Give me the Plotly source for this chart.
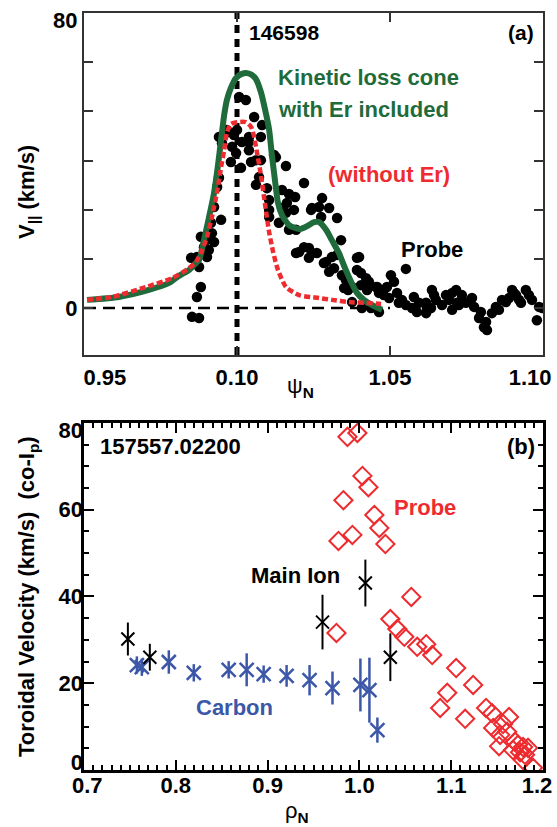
import plotly.graph_objects as go

# ---------------- Panel (a) data ----------------
psi_probe = [1.0007, 1.0029, 1.0056, 1.0082, 0.9967, 1.0000, 0.9964, 0.9951, 0.9990, 1.0039,
             1.0078, 0.9941, 1.0016, 1.0039, 0.9951, 0.9984, 0.9997, 1.0039, 1.0062, 1.0121,
             0.9980, 1.0013, 1.0046, 1.0078, 1.0127, 1.0160, 1.0072, 0.9941, 1.0062, 1.0098,
             0.9935, 1.0147, 1.0219, 1.0170, 1.0190, 1.0105, 1.0163, 1.0186, 1.0147, 1.0160,
             1.0242, 1.0268, 1.0278, 1.0245, 1.0301, 1.0275, 1.0327, 0.9925, 0.9948, 0.9915,
             0.9918, 1.0105, 1.0105, 1.0137, 1.0170, 1.0193, 0.9882, 0.9899, 0.9925, 0.9908,
             0.9892, 1.0193, 1.0219, 1.0235, 1.0245, 1.0235, 1.0203, 0.9850, 0.9869, 0.9902,
             0.9876, 0.9882, 0.9869, 0.9853, 0.9876,
             1.0261, 1.0291, 1.0310, 1.0327, 1.0340, 1.0392, 1.0343, 1.0392, 1.0405, 1.0356,
             1.0350, 1.0422, 1.0431, 1.0503, 1.0552, 1.0376, 1.0405, 1.0425, 1.0458, 1.0471,
             1.0490, 1.0480, 1.0497, 1.0376, 1.0438, 1.0523, 1.0529, 1.0552, 1.0578, 1.0572,
             1.0588, 1.0618, 1.0621, 1.0637, 1.0650, 1.0670, 1.0683, 1.0703, 1.0716, 1.0735,
             1.0719, 1.0748, 1.0768, 1.0775, 1.0797, 1.0791, 1.0807, 1.0814, 1.0833, 1.0856,
             1.0866, 1.0889, 1.0899, 1.0912, 1.0944, 1.0954, 1.0928, 1.0964, 1.0987, 1.0998,
             1.0980, 1.0284, 1.0317, 1.0399, 1.0301, 1.0454, 1.0363, 1.0513, 1.0464, 1.0408,
             1.0464, 1.0539, 1.0634, 1.0618, 1.0644, 1.0693, 1.0735, 1.0725, 1.0703, 1.0817,
             1.0846, 1.0879, 1.0905, 1.0922, 1.0595]
v_probe = [57.2, 56.4, 51.8, 49.6, 48.3, 48.3, 47.5, 46.4, 46.9, 46.4,
           46.4, 46.4, 45.0, 45.0, 44.7, 43.7, 42.0, 42.8, 40.1, 41.5,
           39.6, 38.0, 39.6, 40.1, 40.9, 38.5, 35.5, 35.3, 33.4, 32.5,
           32.8, 32.0, 33.9, 30.9, 30.1, 29.3, 28.5, 26.6, 27.1, 25.8,
           26.6, 27.4, 29.8, 27.1, 27.1, 24.7, 24.4, 27.4, 23.9, 23.1,
           20.3, 26.6, 24.7, 23.1, 21.2, 21.2, 19.3, 18.4, 17.9, 15.7,
           16.5, 14.9, 16.5, 16.3, 14.9, 13.6, 15.2, 13.6, 13.8, 13.8,
           11.1, 5.7, 3.0, -2.4, -2.7,
           14.9, 12.5, 13.8, 14.4, 18.4, 13.6, 8.9, 10.3, 9.5, 7.6,
           5.4, 8.1, 7.1, 8.9, 10.6, 5.7, 6.2, 4.9, 5.7, 4.9,
           5.7, 3.5, 2.7, 1.6, 0.0, 4.1, 1.4, 0.8, 3.0, 0.0,
           -1.1, 1.4, 0.0, 4.9, 2.2, 0.8, 3.5, 4.1, 4.9, 3.5,
           1.4, 1.4, 2.7, 0.3, -1.1, -2.7, -5.2, -3.8, -1.4, -0.5,
           2.2, 2.7, 4.9, 3.5, 4.9, 3.5, 1.4, 2.2, 0.3, 0.0,
           -3.3, 12.2, 10.8, 13.8, 9.8, 5.7, 4.9, 7.1, 4.1, 0.0,
           -1.1, 2.2, 0.0, -1.4, 3.5, 2.2, 2.2, 0.8, -0.5, -6.0,
           0.3, 1.6, 4.1, 2.2, 1.4]

psi_kinetic_er = [0.9510, 0.9614, 0.9712, 0.9778, 0.9810, 0.9843, 0.9866, 0.9876, 0.9892, 0.9908,
                  0.9925, 0.9938, 0.9948, 0.9958, 0.9967, 0.9980, 0.9997, 1.0016, 1.0033, 1.0049,
                  1.0062, 1.0078, 1.0092, 1.0105, 1.0114, 1.0124, 1.0134, 1.0147, 1.0170, 1.0203,
                  1.0229, 1.0252, 1.0268, 1.0291, 1.0310, 1.0333, 1.0353, 1.0373, 1.0392, 1.0415,
                  1.0448, 1.0474]
v_kinetic_er = [2.2, 3.0, 4.9, 6.8, 8.7, 10.3, 12.2, 13.0, 18.4, 24.4,
                31.2, 38.8, 45.6, 52.3, 56.4, 59.7, 62.4, 63.5, 63.7, 63.2,
                62.1, 58.6, 53.7, 48.3, 41.5, 34.7, 28.5, 25.2, 22.5, 21.4,
                22.2, 23.3, 23.3, 21.2, 18.4, 14.9, 10.8, 7.1, 4.1, 2.2,
                0.5, -0.5]

psi_kinetic_noer = [0.9510, 0.9592, 0.9703, 0.9788, 0.9843, 0.9866, 0.9886, 0.9902, 0.9918, 0.9935,
                    0.9948, 0.9958, 0.9967, 0.9980, 1.0000, 1.0029, 1.0046, 1.0056, 1.0065, 1.0078,
                    1.0092, 1.0105, 1.0118, 1.0134, 1.0160, 1.0203, 1.0268, 1.0310, 1.0366, 1.0422,
                    1.0471]
v_kinetic_noer = [2.2, 3.0, 5.7, 8.1, 10.8, 12.5, 15.7, 19.3, 24.7, 31.5,
                  38.2, 42.8, 47.5, 49.9, 50.4, 50.4, 49.1, 46.4, 42.3, 36.1,
                  27.9, 20.6, 15.2, 10.3, 5.7, 3.5, 2.7, 2.2, 1.6, 1.4,
                  1.1]

psi_separatrix = 1.0
psi_zero_span = [0.95, 1.05]

# tick labels (end labels sit slightly inside the frame, as in the original)
psi_label_pos = [0.9568, 1.0, 1.05, 1.0958]
psi_tick_labels = ["0.95", "0.10", "1.05", "1.10"]
v_label_pos_a = [0, 78.1]
v_tick_labels_a = ["0", "80"]
v_tick_marks_a = [0, 80 / 6, 160 / 6, 40, 320 / 6, 400 / 6]

# ---------------- Panel (b) data ----------------
rho_carbon = [0.7576, 0.7630, 0.7924, 0.8196, 0.8576, 0.8772, 0.8957, 0.9207, 0.9457, 0.9707,
              1.0011, 1.0109, 1.0196]
v_carbon = [24.2, 23.7, 24.9, 22.4, 23.1, 23.1, 22.1, 21.7, 20.7, 18.9, 19.6, 18.4, 9.2]
err_carbon = [2.0, 2.0, 2.7, 2.0, 2.0, 3.8, 2.0, 2.5, 3.5, 3.8, 6.1, 7.5, 2.9]

rho_main = [0.7478, 0.7717, 0.9598, 1.0065, 1.0337]
v_main = [30.2, 26.0, 34.1, 43.1, 26.0]
err_main = [3.8, 3.1, 6.3, 5.4, 5.5]

rho_probe = [0.9870, 0.9978, 1.0033, 1.0098, 0.9826, 1.0163, 1.0217, 0.9772, 0.9924, 1.0283,
             1.0565, 0.9750, 1.0337, 1.0413, 1.0489, 1.0630, 1.0728, 1.0793, 1.1054, 1.1239,
             1.0957, 1.0880, 1.1152, 1.1380, 1.1446, 1.1457, 1.1565, 1.1630, 1.1533, 1.1609,
             1.1522, 1.1696, 1.1728, 1.1783, 1.1837, 1.1674, 1.1750, 1.1804, 1.1783, 1.1891]
v_probe_b = [76.8, 77.7, 67.8, 65.2, 62.2, 58.8, 55.8, 52.8, 54.2, 52.1,
             39.9, 31.6, 34.8, 32.5, 30.7, 28.4, 29.0, 26.5, 23.5, 19.6,
             17.8, 14.3, 11.8, 14.3, 13.1, 9.7, 10.6, 12.2, 8.1, 8.8,
             5.5, 6.5, 5.8, 5.3, 5.1, 4.6, 4.1, 3.5, 2.3, 0.5]

rho_label_pos = [0.7035, 0.8, 0.9, 1.0, 1.1, 1.1935]
rho_tick_labels = ["0.7", "0.8", "0.9", "1.0", "1.1", "1.2"]
v_label_pos_b = [1.8, 20, 40, 60, 78.4]
v_tick_labels_b = ["0", "20", "40", "60", "80"]

GREEN = "#1f6b3b"
RED = "#ee2b2f"
BLUE = "#3c57a8"
FONT = "Liberation Sans, Arial, sans-serif"

fig = go.Figure()

# panel (a)
fig.add_trace(go.Scatter(x=psi_probe, y=v_probe, mode="markers", xaxis="x", yaxis="y",
                         marker=dict(color="black", size=10.5, line=dict(width=0))))
fig.add_trace(go.Scatter(x=psi_zero_span, y=[0, 0], mode="lines", xaxis="x", yaxis="y",
                         line=dict(color="black", width=2.5, dash="12px,7px")))
fig.add_trace(go.Scatter(x=[psi_separatrix, psi_separatrix], y=[-12.75, 80], mode="lines",
                         xaxis="x", yaxis="y",
                         line=dict(color="black", width=5, dash="8px,6px")))
fig.add_trace(go.Scatter(x=psi_kinetic_er, y=v_kinetic_er, mode="lines", xaxis="x", yaxis="y",
                         line=dict(color=GREEN, width=6, shape="spline", smoothing=0.6)))
fig.add_trace(go.Scatter(x=psi_kinetic_noer, y=v_kinetic_noer, mode="lines", xaxis="x", yaxis="y",
                         line=dict(color=RED, width=4.5, dash="6px,3px", shape="spline", smoothing=0.6)))

# panel (b)
fig.add_trace(go.Scatter(x=rho_carbon, y=v_carbon, mode="markers", xaxis="x2", yaxis="y2",
                         marker=dict(symbol="x-thin", size=14, color=BLUE,
                                     line=dict(color=BLUE, width=2.5)),
                         error_y=dict(type="data", array=err_carbon, visible=True,
                                      color=BLUE, thickness=2.5, width=0)))
fig.add_trace(go.Scatter(x=rho_main, y=v_main, mode="markers", xaxis="x2", yaxis="y2",
                         marker=dict(symbol="x-thin", size=13, color="black",
                                     line=dict(color="black", width=2)),
                         error_y=dict(type="data", array=err_main, visible=True,
                                      color="black", thickness=2, width=0)))
fig.add_trace(go.Scatter(x=rho_probe, y=v_probe_b, mode="markers", xaxis="x2", yaxis="y2",
                         marker=dict(symbol="diamond-open", size=14, color=RED,
                                     line=dict(color=RED, width=2))))

tickfont = dict(family=FONT, size=22, color="black", weight="bold")

fig.update_layout(
    width=557, height=827,
    margin=dict(l=84, r=14, t=13, b=57, autoexpand=False),
    paper_bgcolor="white", plot_bgcolor="white",
    showlegend=False,
    font=dict(family=FONT, color="black"),
    xaxis=dict(domain=[0, 1], anchor="y", range=[0.95, 1.10], automargin=False,
               tickvals=psi_label_pos, ticktext=psi_tick_labels,
               ticks="", tickfont=tickfont, ticklabelstandoff=2,
               minor=dict(tickvals=[1.0, 1.05], ticks="inside", ticklen=9,
                          tickwidth=2, tickcolor="#333"),
               showline=True, linecolor="#333", linewidth=2, mirror="ticks",
               showgrid=False, zeroline=False),
    yaxis=dict(domain=[0.5482, 1.0], anchor="x", range=[-12.75, 80], automargin=False,
               tickvals=v_label_pos_a, ticktext=v_tick_labels_a,
               ticks="", tickfont=tickfont,
               minor=dict(tickvals=v_tick_marks_a, ticks="inside", ticklen=9,
                          tickwidth=2, tickcolor="#333"),
               showline=True, linecolor="#333", linewidth=2, mirror="ticks",
               showgrid=False, zeroline=False),
    xaxis2=dict(domain=[0, 1], anchor="y2", range=[0.7, 1.2], automargin=False,
                dtick=0.1, tick0=0.7, showticklabels=False,
                ticks="inside", ticklen=10, tickwidth=2, tickcolor="black",
                minor=dict(dtick=0.01, ticks="inside", ticklen=5, tickwidth=2,
                           tickcolor="black"),
                showline=True, linecolor="black", linewidth=2.5, mirror="ticks",
                showgrid=False, zeroline=False),
    yaxis2=dict(domain=[0, 0.4584], anchor="x2", range=[0, 80], automargin=False,
                dtick=20, showticklabels=False,
                ticks="inside", ticklen=10, tickwidth=2, tickcolor="black",
                minor=dict(dtick=5, ticks="inside", ticklen=5, tickwidth=2,
                           tickcolor="black"),
                showline=True, linecolor="black", linewidth=2.5, mirror="ticks",
                showgrid=False, zeroline=False),
    # label-only axes for panel (b)
    xaxis3=dict(overlaying="x2", anchor="y2", side="bottom", range=[0.7, 1.2],
                automargin=False, tickvals=rho_label_pos, ticktext=rho_tick_labels,
                ticks="", tickfont=tickfont, ticklabelstandoff=0,
                showline=False, showgrid=False, zeroline=False),
    yaxis3=dict(overlaying="y2", anchor="x2", side="left", range=[0, 80],
                automargin=False, tickvals=v_label_pos_b, ticktext=v_tick_labels_b,
                ticks="", tickfont=tickfont,
                showline=False, showgrid=False, zeroline=False),
)

# empty trace binding the label axes so they are drawn
fig.add_trace(go.Scatter(x=[None], y=[None], xaxis="x3", yaxis="y3", mode="markers",
                         hoverinfo="skip"))

def ann(text, x, y, xref, yref, color="black", size=22, xanchor="left", angle=0,
        weight="bold"):
    fig.add_annotation(text=text, x=x, y=y, xref=xref, yref=yref, showarrow=False,
                       xanchor=xanchor, yanchor="middle", textangle=angle,
                       font=dict(family=FONT, size=size, color=color, weight=weight))

# panel (a) labels
ann("146598", 1.0033, 74.8, "x", "y", size=21)
ann("(a)", 1.0977, 74.8, "x", "y", xanchor="right", size=21)
ann("Kinetic loss cone", 1.0127, 62.6, "x", "y", color=GREEN)
ann("with Er included", 1.0127, 53.7, "x", "y", color=GREEN)
ann("(without Er)", 1.0291, 36.3, "x", "y", color=RED)
ann("Probe", 1.0529, 16.0, "x", "y")
ann("V<sub>||</sub> (km/s)", -0.122, 0.7635, "paper", "paper", xanchor="center", angle=-90)
ann("ψ<sub><b>N</b></sub>", 0.4706, 0.5060, "paper", "paper", xanchor="center", weight="normal")

# panel (b) labels
ann("157557.02200", 0.7152, 74.5, "x2", "y2")
ann("(b)", 1.1935, 74.5, "x2", "y2", xanchor="right")
ann("Probe", 1.0359, 60.6, "x2", "y2", color=RED)
ann("Main Ion", 0.8793, 44.8, "x2", "y2")
ann("Carbon", 0.8196, 14.3, "x2", "y2", color=BLUE)
ann("Toroidal Velocity (km/s)  (co-I<sub>p</sub>)", -0.122, 0.2285, "paper", "paper",
    xanchor="center", angle=-90)
ann("ρ<sub><b>N</b></sub>", 0.4641, -0.0555, "paper", "paper", xanchor="center", weight="normal")

fig.write_html("out.html")
